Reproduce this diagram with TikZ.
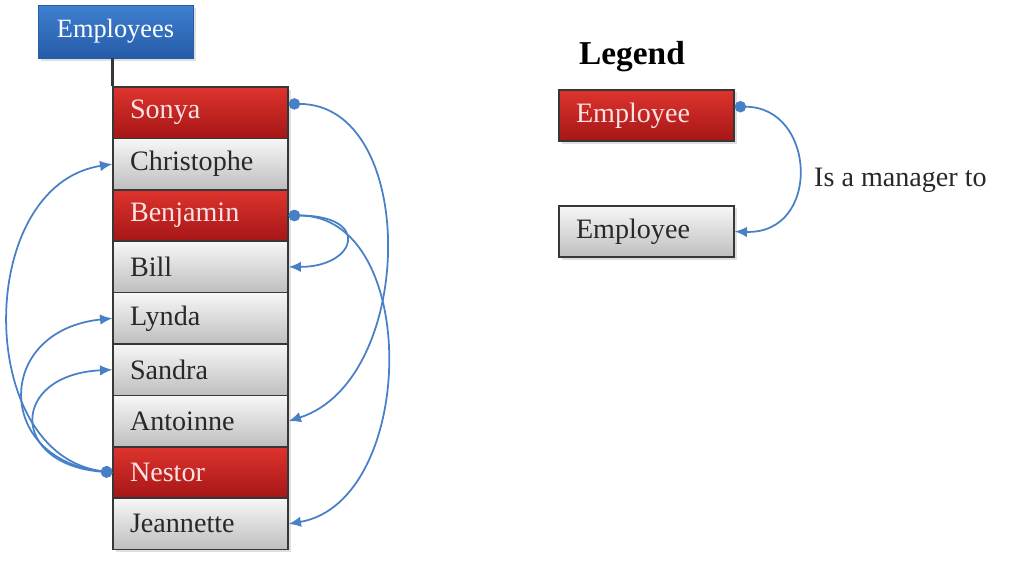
\documentclass[tikz,border=0pt]{standalone}
\usepackage{fontspec}
\setmainfont{Liberation Serif}
\usetikzlibrary{arrows.meta,shadows}

\definecolor{redtop}{RGB}{222,52,46}
\definecolor{redbot}{RGB}{165,22,22}
\definecolor{graytop}{RGB}{247,247,247}
\definecolor{graybot}{RGB}{190,190,190}
\definecolor{bluetop}{RGB}{62,128,208}
\definecolor{bluebot}{RGB}{38,92,168}
\definecolor{linkblue}{RGB}{72,128,200}
\definecolor{edgegray}{RGB}{55,55,55}
\definecolor{pinktext}{RGB}{252,226,226}
\definecolor{darktext}{RGB}{40,40,40}

\tikzset{
  row/.style={minimum width=3.5cm, minimum height=1.028cm, text width=2.82cm,
    inner xsep=0.34cm, align=left, font=\fontsize{16}{18}\selectfont,
    draw=edgegray, line width=0.8pt,
    drop shadow={opacity=0.25, shadow xshift=1.5pt, shadow yshift=-1.5pt}},
  boss/.style={row, top color=redtop, bottom color=redbot, text=pinktext},
  staff/.style={row, top color=graytop, bottom color=graybot, text=darktext},
  manages/.style={draw=linkblue, line width=1pt,
    {Circle[length=6.5pt]}-{Latex[length=7pt,width=6pt]}}
}

\begin{document}
\begin{tikzpicture}[x=0.02cm, y=-0.02cm]
    \useasboundingbox (0,0) rectangle (1011,565);

    % Header box
    \node[draw=bluebot, top color=bluetop, bottom color=bluebot, text=white,
      minimum width=3.1cm, minimum height=1.06cm, font=\fontsize{15}{17}\selectfont,
      drop shadow={opacity=0.25, shadow xshift=1.5pt, shadow yshift=-1.5pt}]
      (Emp) at (115.5,31.5) {Employees};

    % The list of employees
    \node[boss]  (Son) at (200.5,112.7) {Sonya};
    \node[staff] (Chr) at (200.5,164.1) {Christophe};
    \node[boss]  (Ben) at (200.5,215.5) {Benjamin};
    \node[staff] (Bil) at (200.5,266.9) {Bill};
    \node[staff] (Lyn) at (200.5,318.3) {Lynda};
    \node[staff] (San) at (200.5,369.7) {Sandra};
    \node[staff] (Ant) at (200.5,421.1) {Antoinne};
    \node[boss]  (Nes) at (200.5,472.5) {Nestor};
    \node[staff] (Jea) at (200.5,523.9) {Jeannette};

    % Line from the header to the list
    \draw[edgegray, line width=1.5pt] (Emp.south -| Son.west) -- (Son.north west);

    % Managers on the right side
    \draw[manages] ([yshift=5pt]Son.east) .. controls +(130,0) and +(128,-41) .. (Ant.east);
    \draw[manages] (Ben.east) .. controls +(83,0) and +(68,0) .. (Bil.east);
    \draw[manages] (Ben.east) .. controls +(133,0) and +(128,-22) .. (Jea.east);

    % Managers on the left side
    \draw[manages] (Nes.west) .. controls +(-138,-18) and +(-138,21) .. (Chr.west);
    \draw[manages] (Nes.west) .. controls +(-118,-13) and +(-118,12) .. (Lyn.west);
    \draw[manages] (Nes.west) .. controls +(-103,-8) and +(-103,5) .. (San.west);

    % Legend
    \node[font=\fontsize{19}{22}\selectfont\bfseries] (Leg) at (632,57) {Legend};
    \node[boss]  (LegM) at (646.5,115.5) {Employee};
    \node[staff] (LegE) at (646.5,231.5) {Employee};
    \draw[manages] ([yshift=5pt]LegM.east) .. controls +(82,0) and +(87,3) .. (LegE.east);
    \node[anchor=west, text=darktext, font=\fontsize{16}{18}\selectfont] (Lbl) at (808,180) {Is a manager to};

\end{tikzpicture}
\end{document}
